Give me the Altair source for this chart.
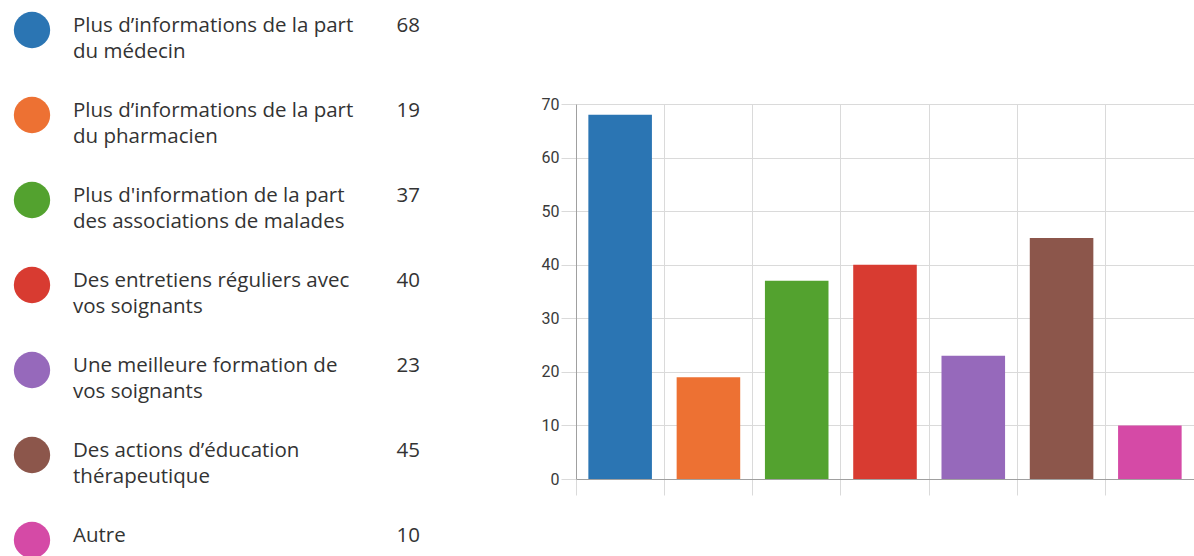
import altair as alt
import pandas as pd

# Survey answers: what would help patients most
categories = [
    "Plus d’informations de la part du médecin",
    "Plus d’informations de la part du pharmacien",
    "Plus d'information de la part des associations de malades",
    "Des entretiens réguliers avec vos soignants",
    "Une meilleure formation de vos soignants",
    "Des actions d’éducation thérapeutique",
    "Autre",
]
line1 = [
    "Plus d’informations de la part",
    "Plus d’informations de la part",
    "Plus d'information de la part",
    "Des entretiens réguliers avec",
    "Une meilleure formation de",
    "Des actions d’éducation",
    "Autre",
]
line2 = [
    "du médecin",
    "du pharmacien",
    "des associations de malades",
    "vos soignants",
    "vos soignants",
    "thérapeutique",
    "",
]
counts = [68, 19, 37, 40, 23, 45, 10]
colors = ["#2b75b3", "#ed7133", "#53a22f", "#d83b31", "#9669bb", "#8c564b", "#d54aa6"]
y_ticks = [0, 10, 20, 30, 40, 50, 60, 70]

df = pd.DataFrame({"cat": categories, "l1": line1, "l2": line2, "n": counts})

FONT = "Open Sans"
FONT_SIZE = 20.5
TEXT = "#333333"
GRID = "#dadada"
AXIS = "#a0a0a0"

color_enc = alt.Color("cat:N", sort=categories,
                      scale=alt.Scale(domain=categories, range=colors), legend=None)

base = alt.Chart(df)

bars = base.mark_bar(width=alt.RelativeBandSize(0.72)).encode(
    x=alt.X("cat:N", sort=categories,
            scale=alt.Scale(paddingInner=0, paddingOuter=0),
            axis=alt.Axis(labels=False, title=None, grid=True, gridColor=GRID,
                          bandPosition=0, ticks=True, tickSize=16, tickColor=GRID,
                          domainColor=AXIS)),
    y=alt.Y("n:Q", scale=alt.Scale(domain=[0, 70], nice=False),
            axis=alt.Axis(values=y_ticks, title=None, grid=True, gridColor=GRID,
                          tickSize=15, tickColor=GRID, domainColor=AXIS,
                          labelFont="Roboto", labelFontSize=16, labelColor="#3a3a3a",
                          labelPadding=2)),
    color=color_enc,
)

# Left-hand key: one row per answer, placed on a point scale
row_y = alt.Y("cat:N", sort=categories,
              scale=alt.Scale(type="point", range=[-74, 436], padding=0), axis=None)

dots = base.mark_circle(size=1320, opacity=1).encode(
    x=alt.value(-544), y=row_y, color=color_enc)

text1 = base.mark_text(align="left", baseline="alphabetic", dy=2,
                       font=FONT, fontSize=FONT_SIZE, color=TEXT).encode(
    x=alt.value(-503), y=row_y, text="l1:N")

text2 = base.mark_text(align="left", baseline="alphabetic", dy=28,
                       font=FONT, fontSize=FONT_SIZE, color=TEXT).encode(
    x=alt.value(-503), y=row_y, text="l2:N")

values = base.mark_text(align="right", baseline="alphabetic", dy=2,
                        font=FONT, fontSize=FONT_SIZE, color=TEXT).encode(
    x=alt.value(-156), y=row_y, text="n:Q")

legend = alt.layer(dots, text1, text2, values)

chart = alt.layer(bars, legend).resolve_scale(y="independent").properties(
    width=618,
    height=375,
    autosize="none",
    padding={"left": 576, "top": 104, "right": 0, "bottom": 77},
    background="white",
).configure_view(stroke=None)

chart.save("out.html", embed_options={"renderer": "svg", "actions": False})
